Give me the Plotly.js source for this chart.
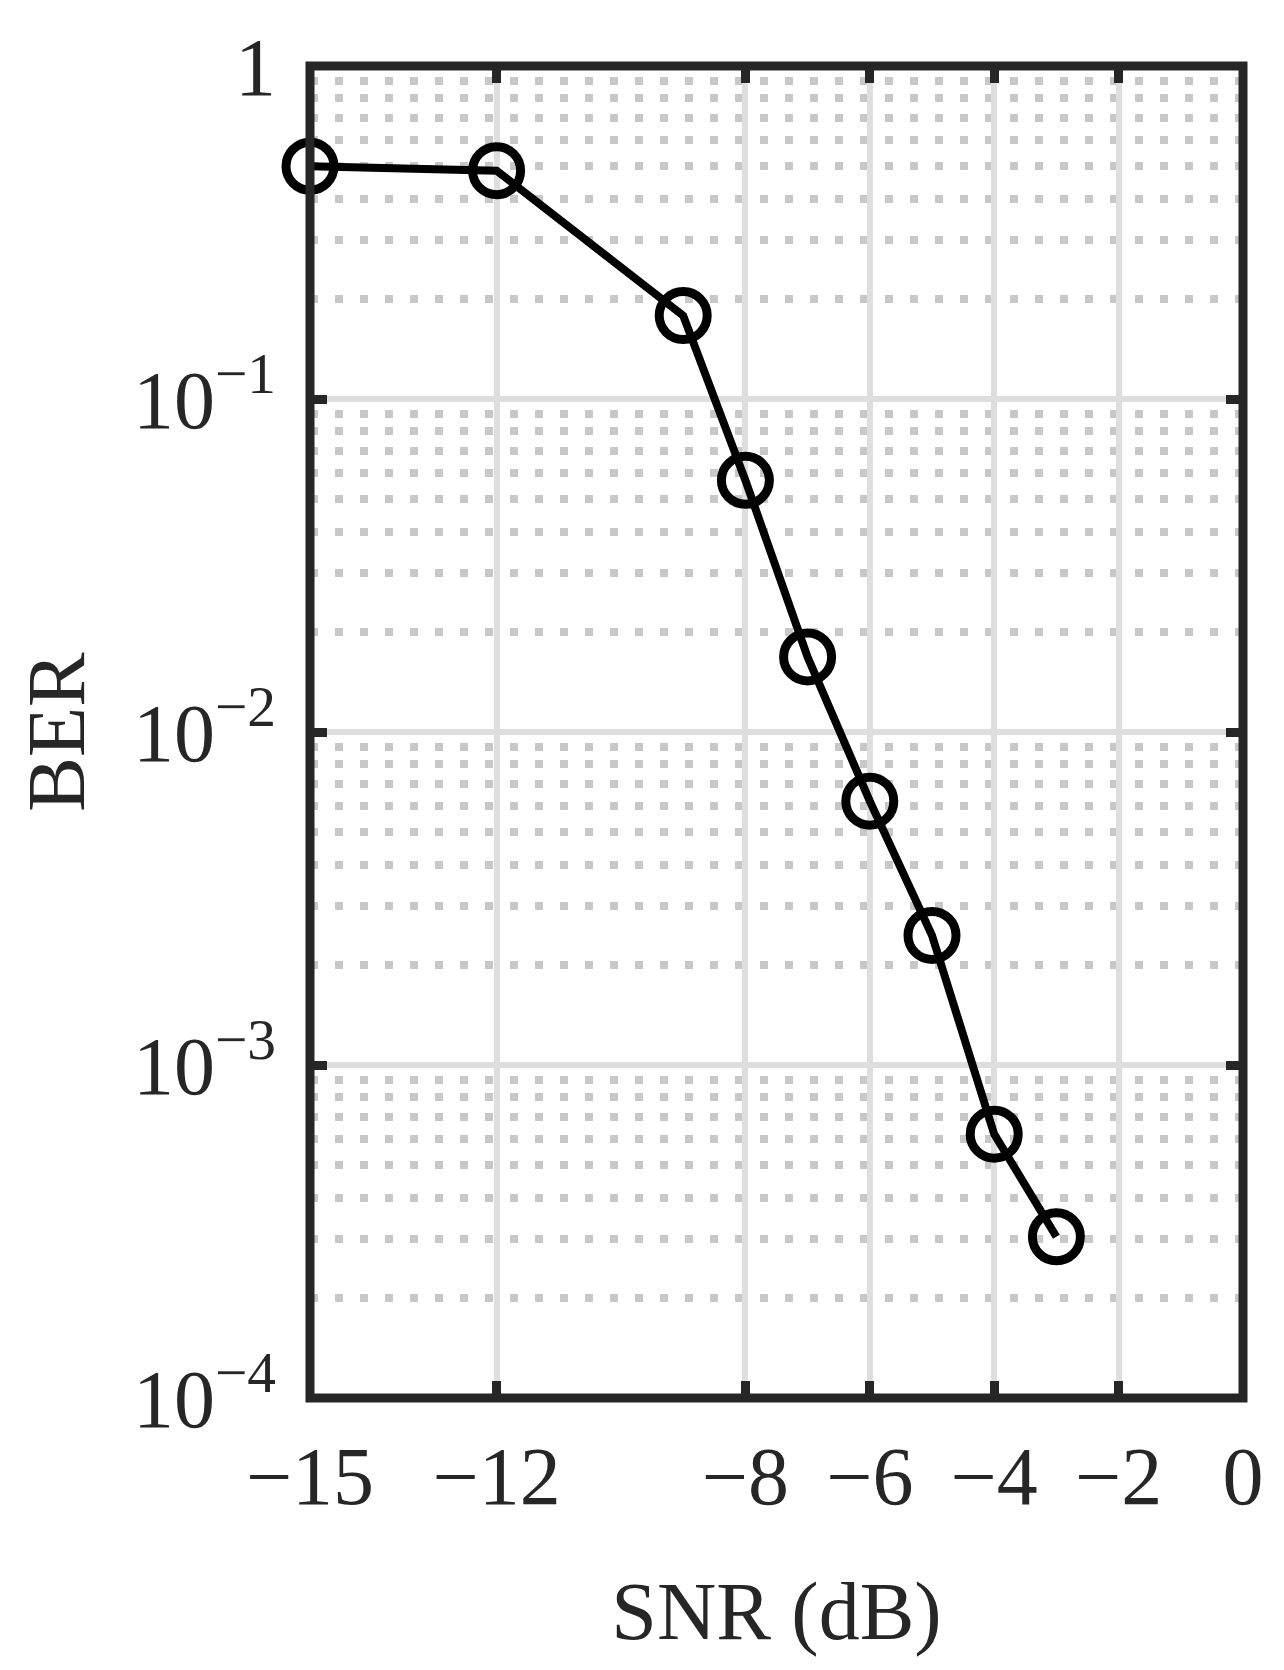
<!DOCTYPE html>
<html>
<head>
<meta charset="utf-8">
<script src="https://cdn.plot.ly/plotly-3.0.1.min.js"></script>
<style>
  body { margin: 0; background: #fff; }
  #plot { width: 1284px; height: 1670px; }
</style>
</head>
<body>
<div id="plot"></div>
<script>
// SNR in dB and measured bit error rate
let snr = [-15, -12, -9, -8, -7, -6, -5, -4, -3]
let ber = [0.50, 0.485, 0.178, 0.057, 0.0168, 0.0062, 0.00245, 0.00062, 0.000305]

let xTicks = [-15, -12, -8, -6, -4, -2, 0]
let xTickText = ['\u221215', '\u221212', '\u22128', '\u22126', '\u22124', '\u22122', '0']
let yTicks = [1e-4, 1e-3, 1e-2, 1e-1, 1]
let yTickText = ['10<sup>\u22124</sup>', '10<sup>\u22123</sup>', '10<sup>\u22122</sup>', '10<sup>\u22121</sup>', '1']

// minor grid at 2..9 in each decade
let yMinor = []
for (let e = -4; e < 0; e++) {
    for (let m = 2; m <= 9; m++) yMinor.push(m * Math.pow(10, e))
}

let ink = '#262626'
let font = { family: 'Liberation Serif, serif', size: 82, color: ink }

let trace = {
    x: snr,
    y: ber,
    type: 'scatter',
    mode: 'lines+markers',
    cliponaxis: false,
    line: { color: '#000', width: 8 },
    marker: { symbol: 'circle-open', size: 48, color: '#000', line: { width: 9, color: '#000' } }
}

let axisCommon = {
    tickmode: 'array',
    ticks: 'inside',
    ticklen: 17,
    tickwidth: 9,
    tickcolor: ink,
    showline: false,
    mirror: 'ticks',
    showgrid: true,
    gridcolor: '#dedede',
    gridwidth: 6,
    zeroline: false,
    tickfont: font
}

let layout = {
    width: 1284,
    height: 1670,
    margin: { l: 310, r: 41, t: 66, b: 272 },
    paper_bgcolor: '#fff',
    plot_bgcolor: '#fff',
    showlegend: false,
    font: font,
    xaxis: Object.assign({}, axisCommon, {
        range: [-15, 0],
        tickvals: xTicks,
        ticktext: xTickText,
        ticklabelstandoff: 23,
        title: { text: 'SNR (dB)', font: font, standoff: 60 }
    }),
    yaxis: Object.assign({}, axisCommon, {
        type: 'log',
        range: [-4, 0],
        tickvals: yTicks,
        ticktext: yTickText,
        ticklabelstandoff: 33,
        minor: {
            tickmode: 'array',
            tickvals: yMinor,
            ticks: '',
            showgrid: true,
            gridcolor: '#c8c8c8',
            gridwidth: 8,
            griddash: '8px,17px'
        },
        title: { text: 'BER', font: font, standoff: 21 }
    }),
    // axes box, centred on the plot edges
    shapes: [{
        type: 'rect', xref: 'x domain', yref: 'y domain',
        x0: 0, x1: 1, y0: 0, y1: 1,
        line: { color: ink, width: 9 },
        layer: 'above'
    }]
}

Plotly.newPlot('plot', [trace], layout, { displayModeBar: false })
</script>
</body>
</html>
